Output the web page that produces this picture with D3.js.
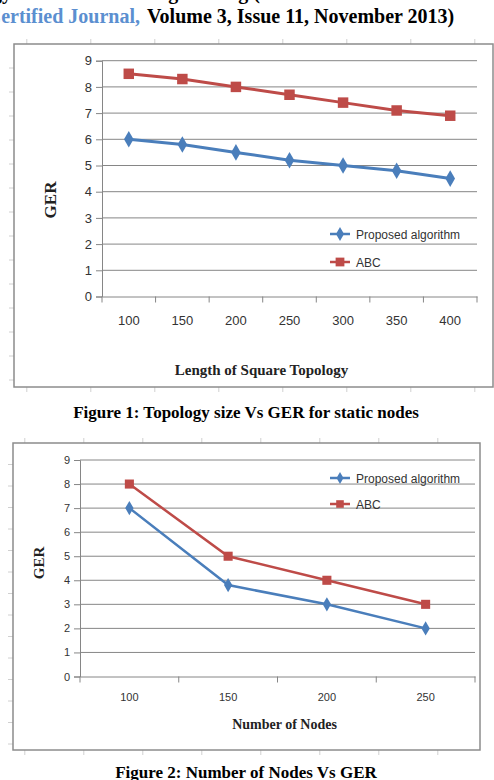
<!DOCTYPE html>
<html>
<head>
<meta charset="utf-8">
<script src="https://cdn.jsdelivr.net/npm/d3@7"></script>
<style>
  body { margin: 0; background: #fff; }
  svg { display: block; }
  .tick text { font-family: "Liberation Sans", Arial, sans-serif; fill: #333; }
</style>
</head>
<body>
<div id="chart"></div>
<script>
// figure 1 data
const topoSizes = ["100", "150", "200", "250", "300", "350", "400"];
const topoProposed = [6.0, 5.8, 5.5, 5.2, 5.0, 4.8, 4.5];
const topoABC = [8.5, 8.3, 8.0, 7.7, 7.4, 7.1, 6.9];

// figure 2 data
const nodeCounts = ["100", "150", "200", "250"];
const nodesProposed = [7, 3.8, 3, 2];
const nodesABC = [8, 5, 4, 3];

const yTicks = [0, 1, 2, 3, 4, 5, 6, 7, 8, 9];
const seriesNames = ["Proposed algorithm", "ABC"];

const blue = "#4a7ebb", red = "#be4b48";

const svg = d3.select("#chart").append("svg")
    .attr("width", 494).attr("height", 780);

// header text (page top, partly cut)
svg.append("text")
    .attr("x", -85).attr("y", -1)
    .attr("font-family", "Liberation Serif").attr("font-weight", "bold").attr("font-size", 20)
    .text("Technology and Advanced Engineering (ISSN 2250-2459");
svg.append("text")
    .attr("x", 140).attr("y", 23).attr("text-anchor", "end")
    .attr("font-family", "Liberation Serif").attr("font-weight", "bold").attr("font-size", 20)
    .attr("fill", "#5b8fd0")
    .text("Certified Journal,");
svg.append("text")
    .attr("x", 147).attr("y", 23)
    .attr("font-family", "Liberation Serif").attr("font-weight", "bold").attr("font-size", 20)
    .attr("fill", "#000")
    .text("Volume 3, Issue 11, November 2013)");

function sheet_ticks(frame, step, vstep) {
    // faint spreadsheet cell marks around the chart frame
    const g = svg.append("g").attr("stroke", "#d0d0d0").attr("stroke-width", 1);
    for (let x = frame.x0 + step / 5; x < frame.x1; x += step) {
        g.append("line").attr("x1", x).attr("x2", x).attr("y1", frame.y0 - 5).attr("y2", frame.y0);
        g.append("line").attr("x1", x).attr("x2", x).attr("y1", frame.y1).attr("y2", frame.y1 + 5);
    }
    for (let y = frame.y0 + vstep; y < frame.y1; y += vstep) {
        g.append("line").attr("x1", frame.x0 - 5).attr("x2", frame.x0).attr("y1", y).attr("y2", y);
    }
}

function draw_chart(opt) {
    const f = opt.frame;
    sheet_ticks(f, opt.sheetStep, opt.sheetVStep);

    svg.append("rect")
        .attr("x", f.x0).attr("y", f.y0)
        .attr("width", f.x1 - f.x0).attr("height", f.y1 - f.y0)
        .attr("fill", "#fff").attr("stroke", "#8c8c8c").attr("stroke-width", 1.5);

    const x = d3.scaleBand().domain(opt.cats).range([opt.left, opt.right]);
    const y = d3.scaleLinear().domain([0, 9]).range([opt.bottom, opt.top]);

    // gridlines
    svg.append("g")
        .selectAll("line").data(yTicks.slice(1)).join("line")
        .attr("x1", opt.left).attr("x2", opt.right)
        .attr("y1", d => y(d)).attr("y2", d => y(d))
        .attr("stroke", "#868686").attr("stroke-width", 1);

    // y axis
    const ya = svg.append("g")
        .attr("transform", `translate(${opt.left},0)`)
        .call(d3.axisLeft(y).tickValues(yTicks).tickSize(6).tickPadding(4));
    ya.select(".domain").attr("stroke", "#868686");
    ya.selectAll(".tick line").attr("stroke", "#868686");
    ya.selectAll(".tick text").attr("font-size", opt.tickFont);

    // x axis with ticks between categories
    const xa = svg.append("g")
        .attr("transform", `translate(0,${opt.bottom})`)
        .call(d3.axisBottom(x).tickSize(0).tickPadding(opt.labelPad));
    xa.select(".domain").attr("stroke", "#868686");
    xa.selectAll(".tick text").attr("font-size", opt.tickFont);
    xa.append("g").selectAll("line")
        .data(opt.cats.concat(["end"])).join("line")
        .attr("x1", (d, i) => opt.left + i * x.step()).attr("x2", (d, i) => opt.left + i * x.step())
        .attr("y1", 0).attr("y2", 6)
        .attr("stroke", "#868686");

    const cx = d => x(d) + x.bandwidth() / 2;
    const series = [
        {vals: opt.proposed, color: blue, marker: d3.symbolDiamond, size: 80 * opt.mk},
        {vals: opt.abc, color: red, marker: d3.symbolSquare, size: 110 * opt.mk}
    ];
    series.forEach(s => {
        const line = d3.line().x((d, i) => cx(opt.cats[i])).y(d => y(d));
        svg.append("path").datum(s.vals)
            .attr("d", line).attr("fill", "none")
            .attr("stroke", s.color).attr("stroke-width", opt.lw);
        svg.append("g").selectAll("path").data(s.vals).join("path")
            .attr("transform", (d, i) => `translate(${cx(opt.cats[i])},${y(d)})`)
            .attr("d", d3.symbol().type(s.marker).size(s.size))
            .attr("fill", s.color);
    });

    // legend
    series.forEach((s, i) => {
        const ly = opt.legY + i * opt.legGap;
        svg.append("line")
            .attr("x1", opt.legX).attr("x2", opt.legX + 20)
            .attr("y1", ly).attr("y2", ly)
            .attr("stroke", s.color).attr("stroke-width", 2.5);
        svg.append("path")
            .attr("transform", `translate(${opt.legX + 10},${ly})`)
            .attr("d", d3.symbol().type(s.marker).size(s.size * 0.7))
            .attr("fill", s.color);
        svg.append("text")
            .attr("x", opt.legX + 26).attr("y", ly + 4.5)
            .attr("font-family", "Liberation Sans").attr("font-size", opt.legFont)
            .attr("fill", "#333")
            .text(seriesNames[i]);
    });

    // axis titles
    svg.append("text")
        .attr("x", (opt.left + opt.right) / 2 + opt.xTitleDx).attr("y", opt.xTitleY)
        .attr("text-anchor", "middle")
        .attr("font-family", "Liberation Serif").attr("font-weight", "bold")
        .attr("font-size", opt.titleFont).attr("fill", "#222")
        .text(opt.xTitle);
    svg.append("text")
        .attr("transform", `translate(${opt.yTitleX},${opt.yTitleY}) rotate(-90)`)
        .attr("text-anchor", "middle")
        .attr("font-family", "Liberation Serif").attr("font-weight", "bold")
        .attr("font-size", opt.yTitleFont).attr("fill", "#222")
        .text("GER");

    // caption
    svg.append("text")
        .attr("x", 246).attr("y", opt.capY)
        .attr("text-anchor", "middle")
        .attr("font-family", "Liberation Serif").attr("font-weight", "bold")
        .attr("font-size", 17).attr("fill", "#000")
        .text(opt.caption);
}

draw_chart({
    frame: {x0: 14, y0: 44, x1: 493, y1: 387},
    sheetStep: 64, sheetVStep: 24,
    left: 102, right: 477, top: 60.7, bottom: 296.5,
    cats: topoSizes, proposed: topoProposed, abc: topoABC,
    tickFont: 13, labelPad: 19, mk: 1, lw: 3,
    legX: 330, legY: 234, legGap: 28, legFont: 12,
    xTitle: "Length of Square Topology", xTitleY: 375, xTitleDx: -28, titleFont: 15,
    yTitleX: 56, yTitleY: 200, yTitleFont: 17,
    caption: "Figure 1: Topology size Vs GER for static nodes", capY: 418
});

draw_chart({
    frame: {x0: 13, y0: 443, x1: 480, y1: 750},
    sheetStep: 59, sheetVStep: 21.5,
    left: 80, right: 475, top: 460, bottom: 676.5,
    cats: nodeCounts, proposed: nodesProposed, abc: nodesABC,
    tickFont: 11, labelPad: 17, mk: 0.75, lw: 2.5,
    legX: 330, legY: 478, legGap: 26, legFont: 12,
    xTitle: "Number of Nodes", xTitleY: 729, xTitleDx: 7, titleFont: 14,
    yTitleX: 44, yTitleY: 563, yTitleFont: 15,
    caption: "Figure 2: Number of Nodes Vs GER", capY: 778
});
</script>
</body>
</html>
